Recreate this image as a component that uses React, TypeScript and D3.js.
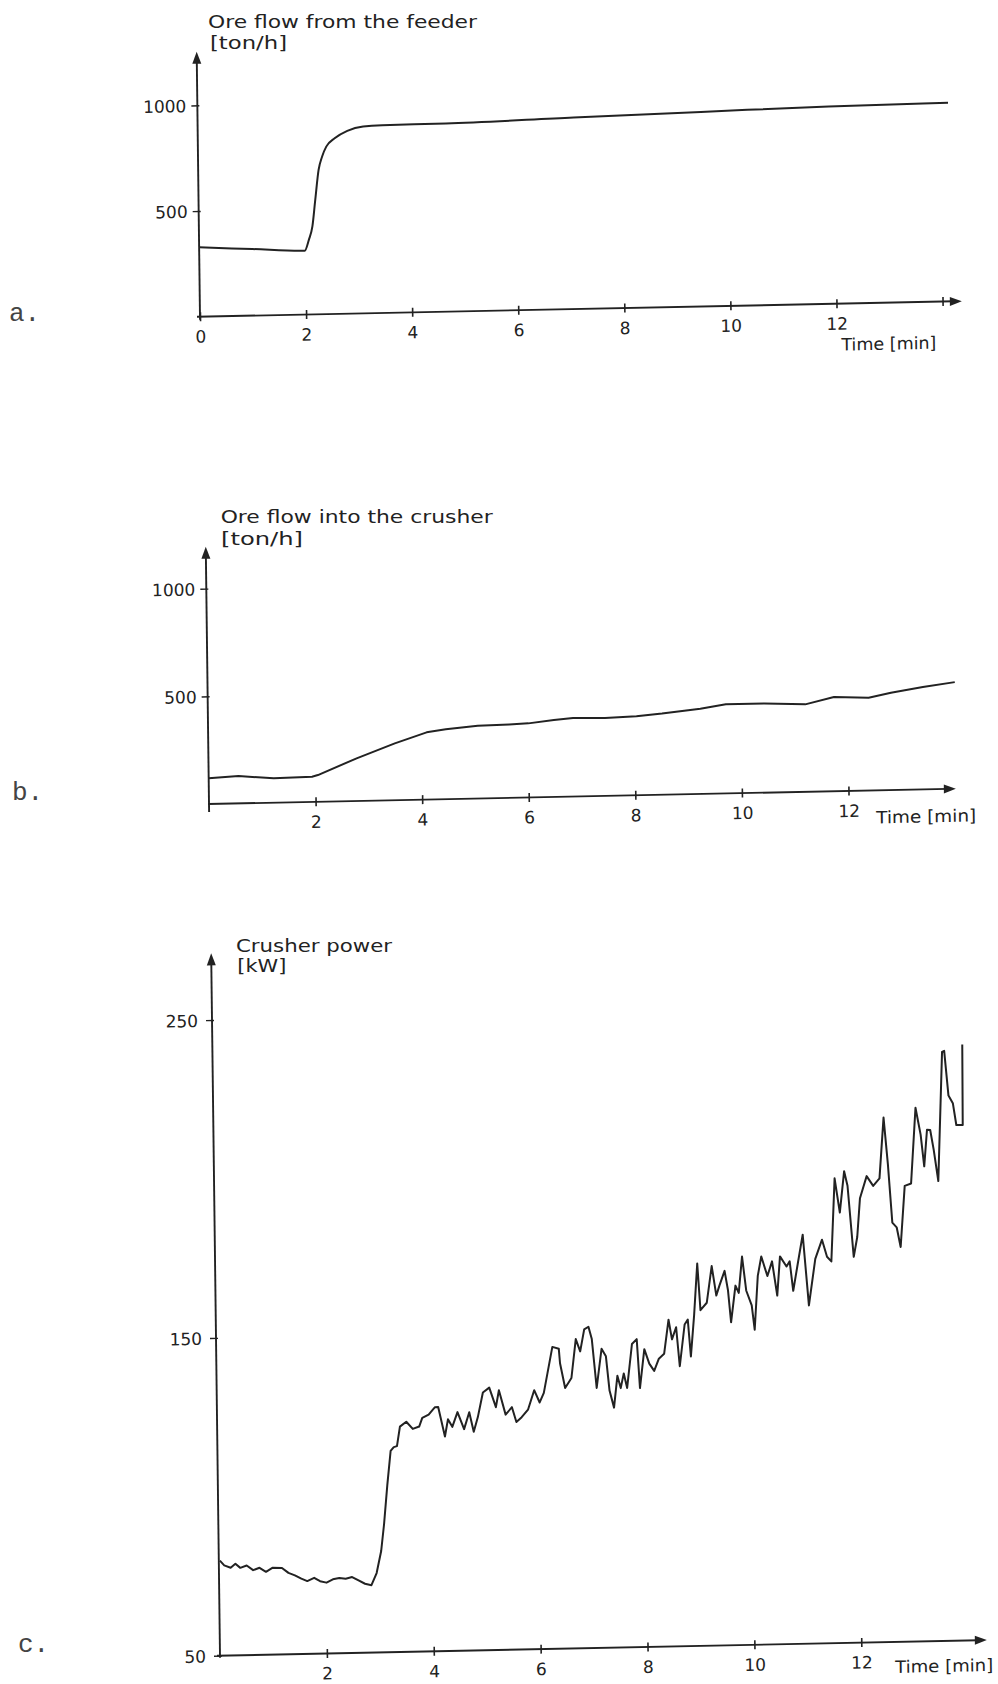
import React, { useEffect, useRef } from "react";
import * as d3 from "d3";

// a. ore flow from the feeder [ton/h]
const feederTime = [0, 1, 1.99, 2.07, 2.14, 2.2, 2.27, 2.34, 2.42, 2.58, 2.82, 3.12, 3.48, 4.68, 7.09, 9.49, 11.9, 14.15];
const feederFlow = [328, 315, 302, 353, 416, 541, 683, 746, 792, 831, 865, 884, 888, 890, 906, 920, 934, 940];

// b. ore flow into the crusher [ton/h]
const crusherTime = [0, 0.56, 1.22, 1.94, 2.05, 2.78, 3.5, 4.1, 4.46, 5.06, 5.65, 6.01, 6.49, 6.85, 7.45, 8.04, 8.52, 9.24, 9.72, 10.44, 11.21, 11.75, 12.4, 12.82, 13.42, 14.02];
const crusherFlow = [119, 127, 113, 117, 124, 198, 264, 312, 324, 338, 341, 344, 357, 365, 362, 367, 377, 396, 414, 414, 406, 437, 431, 452, 475, 495];

// c. crusher power [kW]
const powerTime = [
  0.02, 0.1, 0.22, 0.31, 0.4, 0.52, 0.64, 0.76, 0.88, 1.0, 1.18, 1.3, 1.42, 1.54, 1.65, 1.78, 1.89, 2.01, 2.13, 2.25,
  2.37, 2.49, 2.61, 2.73, 2.85, 2.95, 3.04, 3.1, 3.17, 3.24, 3.3, 3.36, 3.42, 3.54, 3.66, 3.78, 3.84, 3.96, 4.08, 4.14,
  4.26, 4.32, 4.4, 4.5, 4.62, 4.72, 4.8, 4.88, 4.98, 5.1, 5.22, 5.28, 5.4, 5.52, 5.6, 5.7, 5.82, 5.94, 6.04, 6.12,
  6.29, 6.41, 6.43, 6.52, 6.64, 6.73, 6.81, 6.89, 6.97, 7.03, 7.11, 7.21, 7.29, 7.35, 7.43, 7.5, 7.56, 7.62, 7.68, 7.78,
  7.87, 7.92, 8.01, 8.1, 8.19, 8.28, 8.38, 8.47, 8.53, 8.61, 8.67, 8.77, 8.83, 8.88, 8.95, 9.02, 9.07, 9.19, 9.29, 9.37,
  9.43, 9.53, 9.59, 9.64, 9.73, 9.79, 9.86, 9.93, 10.03, 10.08, 10.15, 10.22, 10.33, 10.42, 10.51, 10.57, 10.69, 10.75, 10.81, 10.9,
  11.0, 11.1, 11.23, 11.36, 11.45, 11.53, 11.61, 11.7, 11.79, 11.85, 11.95, 12.02, 12.08, 12.21, 12.33, 12.45, 12.54, 12.61, 12.68, 12.76,
  12.83, 12.92, 13.04, 13.14, 13.23, 13.29, 13.35, 13.41, 13.47, 13.55, 13.65, 13.69, 13.76, 13.84, 13.9, 14.02, 14.03,
];
const powerKw = [
  79.9, 78.4, 77.6, 78.8, 77.5, 78.2, 76.7, 77.4, 76.1, 77.3, 77.2, 75.6, 74.8, 73.7, 72.9, 73.9, 72.8, 72.3, 73.3, 73.7,
  73.4, 73.9, 72.8, 71.7, 71.2, 75.0, 81.9, 90.3, 102.6, 113.3, 114.5, 114.8, 120.9, 122.4, 120.1, 120.8, 123.5, 124.5, 126.8, 126.8,
  117.5, 122.9, 120.5, 125.1, 119.7, 125.0, 118.8, 123.4, 131.1, 132.6, 126.4, 131.7, 124.0, 126.3, 121.6, 123.1, 125.4, 131.5, 127.6, 130.6,
  145.0, 144.4, 139.8, 132.0, 135.1, 147.3, 143.4, 150.3, 151.1, 147.2, 131.8, 144.1, 141.7, 130.9, 125.5, 135.5, 131.6, 136.2, 131.6, 145.4,
  146.9, 131.5, 143.7, 139.1, 136.8, 140.6, 142.1, 152.8, 146.6, 150.4, 138.1, 151.2, 152.7, 141.1, 154.1, 170.3, 155.6, 157.9, 169.4, 160.1,
  163.2, 167.8, 161.6, 151.6, 163.1, 160.8, 172.2, 161.5, 156.8, 149.1, 166.0, 172.1, 165.9, 170.5, 159.7, 172.0, 168.8, 170.4, 161.1, 169.5,
  178.7, 156.4, 171.0, 177.0, 171.6, 170.1, 196.2, 185.4, 198.4, 193.8, 171.4, 177.6, 189.8, 196.7, 193.6, 195.9, 215.0, 200.4, 181.9, 180.4,
  174.2, 193.4, 194.1, 217.9, 209.4, 199.4, 210.9, 210.8, 204.7, 194.7, 235.3, 235.6, 221.5, 219.1, 212.2, 212.2, 237.5,
];

const feederXTicks = [0, 2, 4, 6, 8, 10, 12, 14];
const feederXLabels = ["0", "2", "4", "6", "8", "10", "12", ""];
const flowYTicks = [500, 1000];
const crusherXTicks = [2, 4, 6, 8, 10, 12];
const crusherXLabels = ["2", "4", "6", "8", "10", "12"];
const powerYTicks = [50, 150, 250];

const INK = "#222";
const LETTERING = "'DejaVu Sans', 'Noto Sans', sans-serif";
const TYPEWRITER = "'Liberation Mono', 'DejaVu Sans Mono', monospace";
// the scanned page is slightly skewed: x axes rise ~1.17deg, y axes lean ~0.72deg
const ALPHA = (1.17 * Math.PI) / 180;
const BETA = (0.72 * Math.PI) / 180;

type Panel = {
  ox: number;
  oy: number;
  xLen: number;
  xStart: number;
  xTip: number;
  yDomain: [number, number];
  yLen: number;
  yTip: number;
  yBelow: number;
  time: number[];
  vals: number[];
  xTicks: number[];
  xLabels: string[];
  yTicks: number[];
  yGap: number;
  smooth: boolean;
  timeLabel: [number, number, number];
};

const panels: Panel[] = [
  {
    ox: 200, oy: 316.7, xLen: 742.7, xStart: -3, xTip: 762,
    yDomain: [0, 1000], yLen: 211.4, yTip: 265, yBelow: 3,
    time: feederTime, vals: feederFlow,
    xTicks: feederXTicks, xLabels: feederXLabels, yTicks: flowYTicks, yGap: 11,
    smooth: true, timeLabel: [641, 47, 95],
  },
  {
    ox: 209, oy: 804, xLen: 746.2, xStart: -1, xTip: 747,
    yDomain: [0, 1000], yLen: 215.4, yTip: 257.3, yBelow: 8,
    time: crusherTime, vals: crusherFlow,
    xTicks: crusherXTicks, xLabels: crusherXLabels, yTicks: flowYTicks, yGap: 11,
    smooth: false, timeLabel: [667, 33, 100],
  },
  {
    ox: 220, oy: 1655.7, xLen: 748.3, xStart: -3, xTip: 767,
    yDomain: [50, 250], yLen: 635.7, yTip: 702.4, yBelow: 2,
    time: powerTime, vals: powerKw,
    xTicks: crusherXTicks, xLabels: crusherXLabels, yTicks: powerYTicks, yGap: 14,
    smooth: false, timeLabel: [675, 31, 98],
  },
];

const titles: [string, number, number, number][] = [
  ["Ore flow from the feeder", 208, 28.3, 269],
  ["[ton/h]", 210, 49, 77],
  ["Ore flow into the crusher", 220.7, 523.3, 272],
  ["[ton/h]", 221, 545, 82],
  ["Crusher power", 236, 951.7, 156],
  ["[kW]", 237.3, 972, 49],
];

const letters: [string, number, number][] = [
  ["a.", 9, 321],
  ["b.", 12, 800],
  ["c.", 18, 1652],
];

function drawPanel(svg: d3.Selection<SVGSVGElement, unknown, null, undefined>, p: Panel) {
  const g = svg
    .append("g")
    .attr(
      "transform",
      `matrix(${Math.cos(ALPHA)},${-Math.sin(ALPHA)},${Math.sin(BETA)},${Math.cos(BETA)},${p.ox},${p.oy})`
    );

  const x = d3.scaleLinear().domain([0, 14]).range([0, p.xLen]);
  const y = d3.scaleLinear().domain(p.yDomain).range([0, -p.yLen]);

  // axes with arrow heads
  g.append("line")
    .attr("x1", p.xStart).attr("x2", p.xTip - 8).attr("y1", 0).attr("y2", 0)
    .attr("stroke", INK).attr("stroke-width", 1.9);
  g.append("path")
    .attr("d", `M${p.xTip},0L${p.xTip - 12},-4.5L${p.xTip - 12},4.5Z`)
    .attr("fill", INK);
  g.append("line")
    .attr("x1", 0).attr("x2", 0).attr("y1", p.yBelow).attr("y2", -p.yTip + 8)
    .attr("stroke", INK).attr("stroke-width", 1.9);
  g.append("path")
    .attr("d", `M0,${-p.yTip}L-4.5,${-p.yTip + 12}L4.5,${-p.yTip + 12}Z`)
    .attr("fill", INK);

  const xAxis = g
    .append("g")
    .call(
      d3.axisBottom(x)
        .tickValues(p.xTicks)
        .tickFormat((_, i) => p.xLabels[i])
        .tickSize(0)
    );
  xAxis.select(".domain").remove();
  xAxis.selectAll(".tick line").attr("y1", -4.5).attr("y2", 4.5).attr("stroke", INK).attr("stroke-width", 1.6);
  xAxis
    .selectAll(".tick text")
    .attr("y", 26).attr("dy", null)
    .attr("fill", INK)
    .attr("font-family", LETTERING)
    .attr("font-size", 17);

  const yAxis = g
    .append("g")
    .call(d3.axisLeft(y).tickValues(p.yTicks).tickFormat(d3.format("d")).tickSize(0));
  yAxis.select(".domain").remove();
  yAxis.selectAll(".tick line").attr("x1", -6).attr("x2", 2).attr("stroke", INK).attr("stroke-width", 1.4);
  yAxis
    .selectAll(".tick text")
    .attr("x", -p.yGap).attr("dy", "0.36em")
    .attr("fill", INK)
    .attr("font-family", LETTERING)
    .attr("font-size", 17);

  const [tx, ty, tw] = p.timeLabel;
  g.append("text")
    .attr("x", tx).attr("y", ty)
    .attr("textLength", tw).attr("lengthAdjust", "spacingAndGlyphs")
    .attr("fill", INK)
    .attr("font-family", LETTERING)
    .attr("font-size", 17)
    .text("Time [min]");

  const pts = d3.zip(p.time, p.vals) as [number, number][];
  const line = d3
    .line<[number, number]>()
    .x((d) => x(d[0]))
    .y((d) => y(d[1]))
    .curve(p.smooth ? d3.curveMonotoneX : d3.curveLinear);

  g.append("path")
    .datum(pts)
    .attr("fill", "none")
    .attr("stroke", INK)
    .attr("stroke-width", 2)
    .attr("stroke-linejoin", "round")
    .attr("d", line);
}

export default function App() {
  const ref = useRef<SVGSVGElement | null>(null);

  useEffect(() => {
    if (!ref.current) return;
    const svg = d3.select(ref.current);
    svg.selectAll("*").remove();

    svg.append("rect").attr("width", 998).attr("height", 1684).attr("fill", "#fff");

    panels.forEach((p) => drawPanel(svg, p));

    svg
      .selectAll(".title")
      .data(titles)
      .enter()
      .append("text")
      .attr("class", "title")
      .attr("x", (d) => d[1])
      .attr("y", (d) => d[2])
      .attr("textLength", (d) => d[3])
      .attr("lengthAdjust", "spacingAndGlyphs")
      .attr("fill", INK)
      .attr("font-family", LETTERING)
      .attr("font-size", 18)
      .text((d) => d[0]);

    svg
      .selectAll(".letter")
      .data(letters)
      .enter()
      .append("text")
      .attr("class", "letter")
      .attr("x", (d) => d[1])
      .attr("y", (d) => d[2])
      .attr("fill", "#444")
      .attr("font-family", TYPEWRITER)
      .attr("font-size", 26)
      .text((d) => d[0]);
  }, []);

  return (
    <svg
      ref={ref}
      width={998}
      height={1684}
      style={{ position: "absolute", left: 0, top: 0, background: "#fff" }}
    />
  );
}
